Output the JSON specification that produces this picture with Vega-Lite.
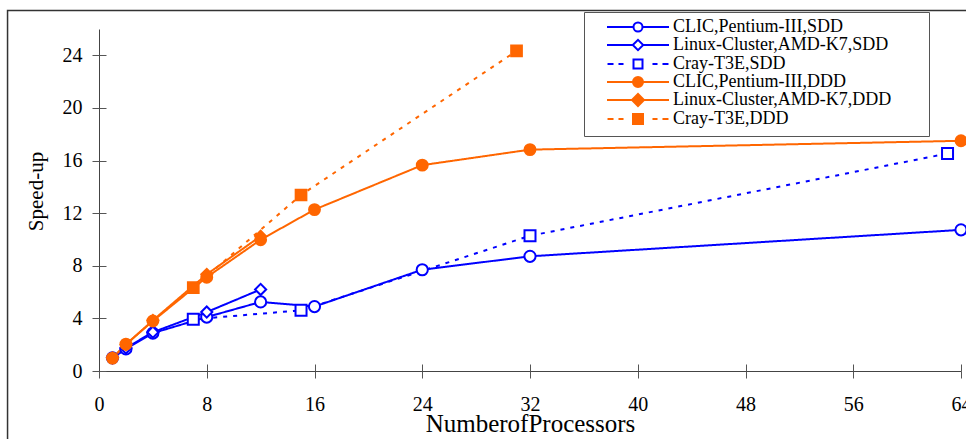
{
  "$schema": "https://vega.github.io/schema/vega-lite/v6.json",
  "width": 862,
  "height": 342,
  "autosize": {"type": "none"},
  "padding": {"left": 99, "top": 29, "right": 5, "bottom": 68},
  "background": "white",
  "config": {
    "view": {"stroke": null},
    "font": "Liberation Serif",
    "axis": {"labelFont": "Liberation Serif", "titleFont": "Liberation Serif", "labelColor": "black", "titleColor": "black", "titleFontWeight": "normal", "grid": false, "domainColor": "#444", "tickColor": "#555", "domainWidth": 1, "tickWidth": 1}
  },
  "data": {"values": [
    {"series": "CLIC,Pentium-III,SDD", "x": 1, "y": 1.0},
    {"series": "CLIC,Pentium-III,SDD", "x": 2, "y": 1.68},
    {"series": "CLIC,Pentium-III,SDD", "x": 4, "y": 2.88},
    {"series": "CLIC,Pentium-III,SDD", "x": 8, "y": 4.1},
    {"series": "CLIC,Pentium-III,SDD", "x": 12, "y": 5.25},
    {"series": "CLIC,Pentium-III,SDD", "x": 16, "y": 4.9},
    {"series": "CLIC,Pentium-III,SDD", "x": 24, "y": 7.7},
    {"series": "CLIC,Pentium-III,SDD", "x": 32, "y": 8.72},
    {"series": "CLIC,Pentium-III,SDD", "x": 64, "y": 10.73},
    {"series": "Linux-Cluster,AMD-K7,SDD", "x": 1, "y": 1.0},
    {"series": "Linux-Cluster,AMD-K7,SDD", "x": 2, "y": 1.75},
    {"series": "Linux-Cluster,AMD-K7,SDD", "x": 4, "y": 2.95},
    {"series": "Linux-Cluster,AMD-K7,SDD", "x": 8, "y": 4.48},
    {"series": "Linux-Cluster,AMD-K7,SDD", "x": 12, "y": 6.2},
    {"series": "Cray-T3E,SDD", "x": 7, "y": 3.93},
    {"series": "Cray-T3E,SDD", "x": 15, "y": 4.61},
    {"series": "Cray-T3E,SDD", "x": 32, "y": 10.28},
    {"series": "Cray-T3E,SDD", "x": 63, "y": 16.53},
    {"series": "CLIC,Pentium-III,DDD", "x": 1, "y": 0.98},
    {"series": "CLIC,Pentium-III,DDD", "x": 2, "y": 2.04},
    {"series": "CLIC,Pentium-III,DDD", "x": 4, "y": 3.8},
    {"series": "CLIC,Pentium-III,DDD", "x": 8, "y": 7.13},
    {"series": "CLIC,Pentium-III,DDD", "x": 12, "y": 9.98},
    {"series": "CLIC,Pentium-III,DDD", "x": 16, "y": 12.27},
    {"series": "CLIC,Pentium-III,DDD", "x": 24, "y": 15.65},
    {"series": "CLIC,Pentium-III,DDD", "x": 32, "y": 16.83},
    {"series": "CLIC,Pentium-III,DDD", "x": 64, "y": 17.5},
    {"series": "Linux-Cluster,AMD-K7,DDD", "x": 1, "y": 1.0},
    {"series": "Linux-Cluster,AMD-K7,DDD", "x": 2, "y": 2.0},
    {"series": "Linux-Cluster,AMD-K7,DDD", "x": 4, "y": 3.85},
    {"series": "Linux-Cluster,AMD-K7,DDD", "x": 8, "y": 7.35},
    {"series": "Linux-Cluster,AMD-K7,DDD", "x": 12, "y": 10.25},
    {"series": "Cray-T3E,DDD", "x": 7, "y": 6.33},
    {"series": "Cray-T3E,DDD", "x": 15, "y": 13.38},
    {"series": "Cray-T3E,DDD", "x": 31, "y": 24.33}
  ]},
  "resolve": {"scale": {"shape": "independent", "color": "independent"}, "axis": {"x": "independent", "y": "independent"}},
  "layer": [
    {
      "data": {"values": [{}]},
      "mark": {"type": "rect", "fillOpacity": 0, "stroke": "#333", "strokeWidth": 1.5, "clip": false},
      "encoding": {
        "x": {"datum": -6.79, "type": "quantitative", "scale": {"domain": [0, 64], "nice": false}, "axis": null},
        "x2": {"datum": 75},
        "y": {"datum": 27.4, "type": "quantitative", "scale": {"domain": [0, 26], "nice": false}, "axis": null},
        "y2": {"datum": -10}
      }
    },
    {
      "mark": {"type": "line", "strokeWidth": 2},
      "encoding": {
        "x": {"field": "x", "type": "quantitative", "scale": {"domain": [0, 64], "nice": false},
          "axis": {"values": [0, 8, 16, 24, 32, 40, 48, 56, 64], "title": "NumberofProcessors", "titleFontSize": 25, "titleY": 60, "titleBaseline": "alphabetic", "labelFontSize": 20, "labelPadding": 16, "tickSize": 7, "labelFlush": false, "labelOverlap": false}},
        "y": {"field": "y", "type": "quantitative", "scale": {"domain": [0, 26], "nice": false},
          "axis": {"values": [0, 4, 8, 12, 16, 20, 24], "title": "Speed-up", "titleFontSize": 21, "titleAngle": 270, "titleX": -57, "titleY": 162, "titleBaseline": "alphabetic", "titleAlign": "center", "labelFontSize": 20, "labelPadding": 10, "tickSize": 7, "labelFlush": false}},
        "color": {"field": "series", "type": "nominal", "legend": null,
          "scale": {"domain": ["CLIC,Pentium-III,SDD", "Linux-Cluster,AMD-K7,SDD", "Cray-T3E,SDD", "CLIC,Pentium-III,DDD", "Linux-Cluster,AMD-K7,DDD", "Cray-T3E,DDD"],
            "range": ["#0000ff", "#0000ff", "#0000ff", "#ff6600", "#ff6600", "#ff6600"]}},
        "strokeDash": {"field": "series", "type": "nominal", "legend": null,
          "scale": {"domain": ["CLIC,Pentium-III,SDD", "Linux-Cluster,AMD-K7,SDD", "Cray-T3E,SDD", "CLIC,Pentium-III,DDD", "Linux-Cluster,AMD-K7,DDD", "Cray-T3E,DDD"],
            "range": [[1, 0], [1, 0], [4, 6], [1, 0], [1, 0], [4, 6]]}}
      }
    },
    {
      "mark": {"type": "point", "filled": true, "strokeWidth": 2, "opacity": 1},
      "encoding": {
        "x": {"field": "x", "type": "quantitative", "scale": {"domain": [0, 64], "nice": false}, "axis": null},
        "y": {"field": "y", "type": "quantitative", "scale": {"domain": [0, 26], "nice": false}, "axis": null},
        "shape": {"field": "series", "type": "nominal", "legend": null,
          "scale": {"domain": ["CLIC,Pentium-III,SDD", "Linux-Cluster,AMD-K7,SDD", "Cray-T3E,SDD", "CLIC,Pentium-III,DDD", "Linux-Cluster,AMD-K7,DDD", "Cray-T3E,DDD"],
            "range": ["circle", "diamond", "square", "circle", "diamond", "square"]}},
        "stroke": {"field": "series", "type": "nominal", "legend": null,
          "scale": {"domain": ["CLIC,Pentium-III,SDD", "Linux-Cluster,AMD-K7,SDD", "Cray-T3E,SDD", "CLIC,Pentium-III,DDD", "Linux-Cluster,AMD-K7,DDD", "Cray-T3E,DDD"],
            "range": ["#0000ff", "#0000ff", "#0000ff", "#ff6600", "#ff6600", "#ff6600"]}},
        "fill": {"field": "series", "type": "nominal", "legend": null,
          "scale": {"domain": ["CLIC,Pentium-III,SDD", "Linux-Cluster,AMD-K7,SDD", "Cray-T3E,SDD", "CLIC,Pentium-III,DDD", "Linux-Cluster,AMD-K7,DDD", "Cray-T3E,DDD"],
            "range": ["#ffffff", "#ffffff", "#ffffff", "#ff6600", "#ff6600", "#ff6600"]}},
        "size": {"field": "series", "type": "nominal", "legend": null,
          "scale": {"domain": ["CLIC,Pentium-III,SDD", "Linux-Cluster,AMD-K7,SDD", "Cray-T3E,SDD", "CLIC,Pentium-III,DDD", "Linux-Cluster,AMD-K7,DDD", "Cray-T3E,DDD"],
            "range": [125, 115, 125, 135, 140, 130]}}
      }
    },
    {
      "mark": {"type": "point", "filled": false, "opacity": 0},
      "encoding": {
        "x": {"field": "x", "type": "quantitative", "scale": {"domain": [0, 64], "nice": false},
          "axis": {"orient": "bottom", "offset": -7, "values": [0, 8, 16, 24, 32, 40, 48, 56, 64], "domain": false, "labels": false, "title": null, "tickSize": 7}},
        "y": {"field": "y", "type": "quantitative", "scale": {"domain": [0, 26], "nice": false},
          "axis": {"orient": "left", "offset": -7, "values": [0, 4, 8, 12, 16, 20, 24], "domain": false, "labels": false, "title": null, "tickSize": 7}},
        "color": {"field": "series", "type": "nominal",
          "scale": {"domain": ["CLIC,Pentium-III,SDD", "Linux-Cluster,AMD-K7,SDD", "Cray-T3E,SDD", "CLIC,Pentium-III,DDD", "Linux-Cluster,AMD-K7,DDD", "Cray-T3E,DDD"],
            "range": ["#0000ff", "#0000ff", "#0000ff", "#ff6600", "#ff6600", "#ff6600"]},
          "legend": {
            "title": null, "orient": "none", "legendX": 485, "legendY": -17,
            "padding": 6, "rowPadding": -1.6, "labelFont": "Liberation Serif", "labelFontSize": 18, "labelColor": "black",
            "labelLimit": 500, "fillColor": "white", "strokeColor": "#555",
            "symbolOpacity": 1, "symbolSize": 256, "symbolStrokeWidth": 2, "symbolOffset": 39, "labelOffset": 26,
            "encode": {"legend": {"strokeWidth": {"value": 1.5}}}
          }},
        "shape": {"field": "series", "type": "nominal",
          "scale": {"domain": ["CLIC,Pentium-III,SDD", "Linux-Cluster,AMD-K7,SDD", "Cray-T3E,SDD", "CLIC,Pentium-III,DDD", "Linux-Cluster,AMD-K7,DDD", "Cray-T3E,DDD"],
            "range": [
              "M-5.875,0M35.125,0M0,-1.125M-3.875,0H-0.5625M0.5625,0H3.875M0.5625,0C0.5625,0.3107,0.3107,0.5625,0,0.5625C-0.3107,0.5625,-0.5625,0.3107,-0.5625,0C-0.5625,-0.3107,-0.3107,-0.5625,0,-0.5625C0.3107,-0.5625,0.5625,-0.3107,0.5625,0Z",
              "M-5.875,0M35.125,0M-3.875,0H-0.65M0.65,0H3.875M-0.65,0L0,-0.65L0.65,0L0,0.65Z",
              "M-5.875,0M35.125,0M-3.81,0H-3.06M-2.44,0H-1.81M1.81,0H2.44M3.06,0H3.81M-0.5625,-0.5625H0.5625V0.5625H-0.5625Z",
              "M-5.875,0M35.125,0M-3.875,0H-0.625M0.625,0H3.875M0.625,0C0.625,0.3452,0.3452,0.625,0,0.625C-0.3452,0.625,-0.625,0.3452,-0.625,0C-0.625,-0.3452,-0.3452,-0.625,0,-0.625C0.3452,-0.625,0.625,-0.3452,0.625,0ZM0.375,0C0.375,0.2071,0.2071,0.375,0,0.375C-0.2071,0.375,-0.375,0.2071,-0.375,0C-0.375,-0.2071,-0.2071,-0.375,0,-0.375C0.2071,-0.375,0.375,-0.2071,0.375,0ZM0.125,0C0.125,0.069,0.069,0.125,0,0.125C-0.069,0.125,-0.125,0.069,-0.125,0C-0.125,-0.069,-0.069,-0.125,0,-0.125C0.069,-0.125,0.125,-0.069,0.125,0Z",
              "M-5.875,0M35.125,0M-3.875,0H-0.75M0.75,0H3.875M-0.75,0L0,-0.75L0.75,0L0,0.75ZM-0.5,0L0,-0.5L0.5,0L0,0.5ZM-0.25,0L0,-0.25L0.25,0L0,0.25ZM-0.06,0L0,-0.06L0.06,0L0,0.06Z",
              "M-5.875,0M35.125,0M0,0.875M-3.81,0H-3.06M-2.44,0H-1.81M1.81,0H2.44M3.06,0H3.81M-0.625,-0.625H0.625V0.625H-0.625ZM-0.375,-0.375H0.375V0.375H-0.375ZM-0.125,-0.125H0.125V0.125H-0.125Z"
            ]},
          "legend": {
            "title": null, "orient": "none", "legendX": 485, "legendY": -17,
            "padding": 6, "rowPadding": -1.6, "labelFont": "Liberation Serif", "labelFontSize": 18, "labelColor": "black",
            "labelLimit": 500, "fillColor": "white", "strokeColor": "#555",
            "symbolOpacity": 1, "symbolSize": 256, "symbolStrokeWidth": 2, "symbolOffset": 39, "labelOffset": 26,
            "encode": {"legend": {"strokeWidth": {"value": 1.5}}}
          }
        }
      }
    }
  ]
}
